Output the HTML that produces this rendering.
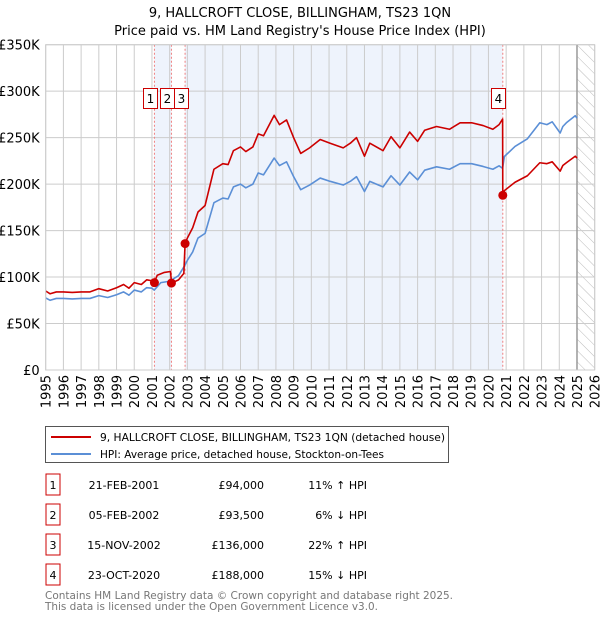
<!DOCTYPE html>
<html><head><meta charset="utf-8"><style>
body{margin:0;background:#fff;font-family:"DejaVu Sans","Liberation Sans",sans-serif;}
#wrap{position:relative;width:600px;height:620px;overflow:hidden;}
</style></head><body>
<div id="wrap">
<svg id="chart" width="600" height="620" xmlns="http://www.w3.org/2000/svg" font-family="DejaVu Sans, Liberation Sans, sans-serif">
<defs>
<pattern id="hatch" width="8" height="8" patternUnits="userSpaceOnUse" patternTransform="rotate(-45)">
<line x1="0" y1="0" x2="0" y2="8" stroke="#bbb" stroke-width="1"/>
</pattern>
</defs>
<text x="300" y="17" text-anchor="middle" font-size="13" fill="#000">9, HALLCROFT CLOSE, BILLINGHAM, TS23 1QN</text>
<text x="300" y="35" text-anchor="middle" font-size="13" fill="#000">Price paid vs. HM Land Registry's House Price Index (HPI)</text>
<g id="plot"></g>
<g>
<rect x="45.5" y="426.5" width="403" height="36" fill="#fff" stroke="#555"/>
<line x1="51" y1="437" x2="91" y2="437" stroke="#cc0000" stroke-width="2"/>
<text x="100" y="441" font-size="11" textLength="345" lengthAdjust="spacingAndGlyphs" fill="#000">9, HALLCROFT CLOSE, BILLINGHAM, TS23 1QN (detached house)</text>
<line x1="51" y1="454" x2="91" y2="454" stroke="#5b8fd6" stroke-width="2"/>
<text x="100" y="458" font-size="11" textLength="284" lengthAdjust="spacingAndGlyphs" fill="#000">HPI: Average price, detached house, Stockton-on-Tees</text>
</g>
<g id="table" font-size="11" fill="#000"></g>
<text x="45" y="599" font-size="11" textLength="408" lengthAdjust="spacingAndGlyphs" fill="#777">Contains HM Land Registry data © Crown copyright and database right 2025.</text>
<text x="45" y="610" font-size="11" textLength="333" lengthAdjust="spacingAndGlyphs" fill="#777">This data is licensed under the Open Government Licence v3.0.</text>
</svg>
</div>
<script>
const hpiYears=[1995.0,1995.25,1995.6,1996.0,1996.5,1997.0,1997.5,1998.0,1998.5,1999.0,1999.4,1999.7,2000.0,2000.4,2000.7,2001.0,2001.13,2001.5,2002.0,2002.2,2002.5,2002.87,2003.0,2003.3,2003.6,2004.0,2004.5,2005.0,2005.3,2005.6,2006.0,2006.3,2006.7,2007.0,2007.3,2007.9,2008.2,2008.6,2009.0,2009.4,2009.9,2010.5,2011.06,2011.8,2012.2,2012.55,2013.0,2013.3,2014.05,2014.5,2015.0,2015.55,2016.0,2016.4,2017.07,2017.8,2018.4,2019.05,2019.7,2020.25,2020.6,2020.8,2020.9,2021.5,2022.2,2022.9,2023.3,2023.6,2024.05,2024.2,2024.4,2024.9,2025.0];
const hpiValues=[77.5,75,77,77,76.5,77,77,80,78,81,84,80.5,86,84,88.6,88,86,94,95.5,98,101.5,113,118,127,142,147,180,185,184,197,200,196,200,212,210,228,220,224,208,194,199,206.5,203,199,203,208,192,203,197,209,199,213,204.6,215,218.6,216,222,222,219,216,219.7,217,229.7,240.5,248.8,266,264,267,255,262,266,273.6,271];
const priceYears=[1995.0,1995.25,1995.6,1996.0,1996.5,1997.0,1997.5,1998.0,1998.5,1999.0,1999.4,1999.7,2000.0,2000.4,2000.7,2001.0,2001.13,2001.3,2001.7,2002.05,2002.1,2002.5,2002.8,2002.87,2003.0,2003.3,2003.6,2004.0,2004.5,2005.0,2005.3,2005.6,2006.0,2006.3,2006.7,2007.0,2007.3,2007.9,2008.2,2008.6,2009.0,2009.4,2009.9,2010.5,2011.06,2011.8,2012.2,2012.55,2013.0,2013.3,2014.05,2014.5,2015.0,2015.55,2016.0,2016.4,2017.07,2017.8,2018.4,2019.05,2019.7,2020.25,2020.6,2020.8,2020.81,2020.9,2021.5,2022.2,2022.9,2023.3,2023.6,2024.05,2024.2,2024.4,2024.9,2025.0];
const priceValues=[85,82,84,84,83.5,84,84,87.5,85,88.5,92,88,94,92,97,96,94,102,105,106,93.5,97,104,136,142,153,170,177,216,222,221,236,240,235,240,254,252,274,264,269,250,233,239,248,244,239,244,250,230,244,236,251,239,256,246,258,262,259,266,266,263,259,264,270,188,193,202,209,223,222,224,214,220,223,230,228];
const saleLabels=["1","2","3","4"];
const saleYears=[2001.14,2002.1,2002.87,2020.81];
const salePrices=[94,93.5,136,188];
const saleDates=["21-FEB-2001","05-FEB-2002","15-NOV-2002","23-OCT-2020"];
const salePriceText=["£94,000","£93,500","£136,000","£188,000"];
const saleHpiText=["11% ↑ HPI","6% ↓ HPI","22% ↑ HPI","15% ↓ HPI"];
const yTicks=[0,50,100,150,200,250,300,350];
const yTickLabels=["£0","£50K","£100K","£150K","£200K","£250K","£300K","£350K"];
const xTicks=[1995,1996,1997,1998,1999,2000,2001,2002,2003,2004,2005,2006,2007,2008,2009,2010,2011,2012,2013,2014,2015,2016,2017,2018,2019,2020,2021,2022,2023,2024,2025,2026];
const dataEndYear=2025.0;

const NS="http://www.w3.org/2000/svg";
const L=45.7,R=594.7,T=44.7,B=370;
const X=y=>L+(y-1995)/(2026-1995)*(R-L);
const Y=v=>B-v/350*(B-T);
const plot=document.getElementById('plot');
function mk(tag,attrs,parent){const e=document.createElementNS(NS,tag);for(const k in attrs)e.setAttribute(k,attrs[k]);(parent||plot).appendChild(e);return e;}

let s=mk('rect',{x:X(saleYears[0]),y:T,width:X(saleYears[1])-X(saleYears[0]),height:B-T,fill:'#eef3fc'});


s=mk('rect',{x:X(saleYears[2]),y:T,width:X(saleYears[3])-X(saleYears[2]),height:B-T,fill:'#eef3fc'});


s=mk('rect',{x:X(dataEndYear),y:T,width:R-X(dataEndYear),height:B-T,fill:'url(#hatch)'});



yTicks.forEach((v,i)=>{
  const g=mk('line',{x1:L,x2:R,y1:Y(v),y2:Y(v),stroke:'#cccccc','stroke-width':1});
  
  
  const t=mk('text',{x:L-6,y:Y(v)+5,'text-anchor':'end','font-size':13,fill:'#000'});
  t.textContent=yTickLabels[i];
  
  
});
xTicks.forEach(yr=>{
  const g=mk('line',{x1:X(yr),x2:X(yr),y1:T,y2:B,stroke:'#cccccc','stroke-width':1});
  
  
  const t=mk('text',{x:0,y:0,'text-anchor':'end','font-size':13,fill:'#000',transform:`translate(${X(yr)+5},${B+5}) rotate(-90)`});
  t.textContent=String(yr);
  
  
});
s=mk('line',{x1:X(dataEndYear),x2:X(dataEndYear),y1:T,y2:B,stroke:'#999','stroke-width':1.5});



saleYears.forEach(yr=>{
  const d=mk('line',{x1:X(yr),x2:X(yr),y1:T,y2:B,stroke:'#f08080','stroke-width':1,'stroke-dasharray':'2,2'});
  
  
});

function path(xs,vs){return xs.map((x,i)=>(i?'L':'M')+X(x).toFixed(2)+','+Y(vs[i]).toFixed(2)).join(' ');}
const hp=mk('path',{d:path(hpiYears,hpiValues),fill:'none',stroke:'#5b8fd6','stroke-width':1.6,'stroke-linejoin':'round'});


const pp=mk('path',{d:path(priceYears,priceValues),fill:'none',stroke:'#cc0000','stroke-width':1.6,'stroke-linejoin':'round'});



saleYears.forEach((yr,i)=>{
  const c=mk('circle',{cx:X(yr),cy:Y(salePrices[i]),r:4.5,fill:'#cc0000'});
  
  
});
const boxLeft=[143,160,174,491];
saleLabels.forEach((lab,i)=>{
  const r=mk('rect',{x:boxLeft[i]+0.5,y:88.5,width:14,height:20,fill:'#fff',stroke:'#cc0000','stroke-width':1});
  
  
  const t=mk('text',{x:boxLeft[i]+7.5,y:103,'text-anchor':'middle','font-size':12,fill:'#000'});
  t.textContent=lab;
  
  
});
s=mk('rect',{x:L,y:T,width:R-L,height:B-T,fill:'none',stroke:'#cccccc'});



const tb=document.getElementById('table');
saleLabels.forEach((lab,i)=>{
  const cy=485+i*30;
  const r=mk('rect',{x:46,y:cy-11,width:14,height:21,fill:'#fff',stroke:'#cc0000'},tb);
  
  
  const cols=[[53,'middle',lab],[124,'middle',saleDates[i]],[264,'end',salePriceText[i]],[367,'end',saleHpiText[i]]];
  cols.forEach((c,j)=>{
    const t=mk('text',{x:c[0],y:cy+4,'text-anchor':c[1]},tb);
    t.textContent=c[2];
    
    
  });
});
</script>
</body></html>
